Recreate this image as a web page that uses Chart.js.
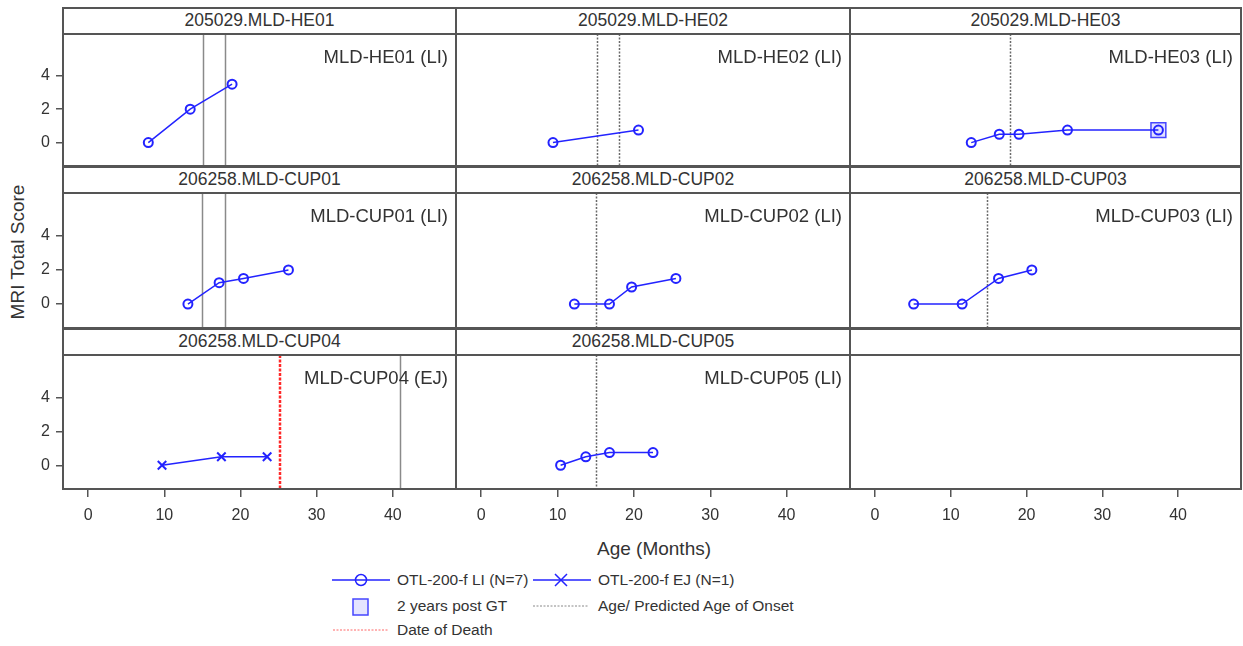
<!DOCTYPE html>
<html>
<head>
<meta charset="utf-8">
<script src="https://cdn.jsdelivr.net/npm/chart.js@4/dist/chart.umd.min.js"></script>
<style>
body { margin:0; background:#fff; width:1243px; height:646px; position:relative; overflow:hidden;
       font-family:"Liberation Sans", Arial, sans-serif; color:#333; }
canvas { position:absolute; }
.strip { position:absolute; box-sizing:border-box; border:2px solid #555; background:#fff;
         text-align:center; font-size:17.5px; line-height:23px; white-space:nowrap; }
.title { position:absolute; font-size:19px; white-space:nowrap; }
.lg { position:absolute; font-size:15.5px; white-space:nowrap; line-height:18px; }
svg { position:absolute; }
</style>
</head>
<body>
<div class="title" id="ytitle" style="left:18px;top:252px;transform:translate(-50%,-50%) rotate(-90deg);">MRI Total Score</div>
<div class="title" style="left:654px;top:549px;transform:translate(-50%,-50%);">Age (Months)</div>

<!-- legend -->
<svg style="left:330px;top:570px" width="62" height="20"><line x1="2" y1="10" x2="60" y2="10" stroke="rgb(35,35,255)" stroke-width="1.5"/><circle cx="31" cy="10" r="5.5" fill="none" stroke="rgb(35,35,255)" stroke-width="1.5"/></svg>
<div class="lg" style="left:397px;top:571px">OTL-200-f LI (N=7)</div>
<svg style="left:531px;top:570px" width="62" height="20"><line x1="2" y1="10" x2="60" y2="10" stroke="rgb(35,35,255)" stroke-width="1.5"/><path d="M24 4 L36 16 M36 4 L24 16" stroke="rgb(35,35,255)" stroke-width="1.5"/></svg>
<div class="lg" style="left:598px;top:571px">OTL-200-f EJ (N=1)</div>
<svg style="left:350px;top:596px" width="22" height="22"><rect x="3" y="3" width="15" height="16" fill="rgba(120,120,255,0.2)" stroke="rgb(70,70,255)" stroke-width="1.5"/></svg>
<div class="lg" style="left:397px;top:597px">2 years post GT</div>
<svg style="left:531px;top:596px" width="62" height="20"><line x1="2" y1="10" x2="58" y2="10" stroke="#888" stroke-width="1" stroke-dasharray="2,1.5"/></svg>
<div class="lg" style="left:598px;top:597px">Age/ Predicted Age of Onset</div>
<svg style="left:330px;top:620px" width="62" height="20"><line x1="3" y1="10" x2="59" y2="10" stroke="#f66" stroke-width="1" stroke-dasharray="2,1.5"/></svg>
<div class="lg" style="left:397px;top:621px">Date of Death</div>

<script>
// panel order: row by row, left to right
var panelTitles = ['205029.MLD-HE01', '205029.MLD-HE02', '205029.MLD-HE03',
                   '206258.MLD-CUP01', '206258.MLD-CUP02', '206258.MLD-CUP03',
                   '206258.MLD-CUP04', '206258.MLD-CUP05', ''];
var insetLabels = ['MLD-HE01 (LI)', 'MLD-HE02 (LI)', 'MLD-HE03 (LI)',
                   'MLD-CUP01 (LI)', 'MLD-CUP02 (LI)', 'MLD-CUP03 (LI)',
                   'MLD-CUP04 (EJ)', 'MLD-CUP05 (LI)', ''];
var cohorts = ['LI', 'LI', 'LI', 'LI', 'LI', 'LI', 'EJ', 'LI', ''];

var ages = [[7.9, 13.4, 18.9], [9.4, 20.6], [12.7, 16.4, 19.0, 25.4, 37.4],
            [13.1, 17.2, 20.4, 26.3], [12.2, 16.8, 19.7, 25.5], [5.1, 11.5, 16.3, 20.7],
            [9.7, 17.5, 23.5], [10.4, 13.7, 16.8, 22.5], []];
var scores = [[0, 2, 3.5], [0, 0.75], [0, 0.5, 0.5, 0.75, 0.75],
              [0, 1.25, 1.5, 2], [0, 0, 1, 1.5], [0, 0, 1.5, 2],
              [0, 0.5, 0.5], [0, 0.5, 0.75, 0.75], []];

var onsetAges = [[15.1, 18], [15.2, 18], [17.8], [15, 18], [15], [14.8], [41], [15], []];
var deathAges = [null, null, null, null, null, null, 25.2, null, null];
var postGtAges = [null, null, 37.4, null, null, null, null, null, null];
var postGtScores = [null, null, 0.75, null, null, null, null, null, null];

var xTicks = [0, 10, 20, 30, 40];
var yTicks = [0, 2, 4];

// layout
var colLeft = [63, 456, 850];
var colW = [393, 394, 391];
var rowTop = [8, 167, 329];
var stripH = 26;
var plotH = [132, 135, 134];
var yAxisW = 45, xAxisH = 46;
var solidOnset = [0, 3, 6];
var blue = 'rgb(35,35,255)';

Chart.defaults.font.family = '"Liberation Sans", Arial, sans-serif';
Chart.defaults.font.size = 16;
Chart.defaults.color = '#333';

var panelDecor = {
  id: 'panelDecor',
  beforeDatasetsDraw: function(chart, args, opts) {
    var ctx = chart.ctx, a = chart.chartArea, xs = chart.scales.x;
    ctx.save();
    ctx.beginPath();
    ctx.rect(a.left, a.top, a.right - a.left, a.bottom - a.top);
    ctx.clip();
    opts.onset.forEach(function(v) {
      var px = Math.round(xs.getPixelForValue(v)) + 0.5;
      ctx.beginPath();
      ctx.lineWidth = 1.5;
      ctx.strokeStyle = opts.solid ? '#8a8a8a' : '#6a6a6a';
      ctx.setLineDash(opts.solid ? [] : [2, 1.5]);
      ctx.moveTo(px, a.top);
      ctx.lineTo(px, a.bottom);
      ctx.stroke();
    });
    if (opts.death != null) {
      var dx = Math.round(xs.getPixelForValue(opts.death));
      ctx.beginPath();
      ctx.lineWidth = 2.5;
      ctx.strokeStyle = 'rgb(255,40,40)';
      ctx.setLineDash([3, 1.5]);
      ctx.moveTo(dx, a.top);
      ctx.lineTo(dx, a.bottom);
      ctx.stroke();
    }
    ctx.restore();
  },
  afterDraw: function(chart, args, opts) {
    var ctx = chart.ctx, a = chart.chartArea;
    ctx.save();
    ctx.lineWidth = 2;
    ctx.strokeStyle = '#555';
    ctx.strokeRect(a.left, a.top, a.right - a.left, a.bottom - a.top);
    if (opts.label) {
      ctx.font = '18.5px "Liberation Sans", Arial, sans-serif';
      ctx.fillStyle = '#333';
      ctx.textAlign = 'right';
      ctx.textBaseline = 'alphabetic';
      ctx.fillText(opts.label, a.right - 8, a.top + 29);
    }
    ctx.restore();
  }
};

for (var i = 0; i < 9; i++) {
  var r = Math.floor(i / 3), c = i % 3;
  var plotTop = rowTop[r] + stripH;

  var strip = document.createElement('div');
  strip.className = 'strip';
  strip.style.left = (colLeft[c] - 1) + 'px';
  strip.style.top = (rowTop[r] - 1) + 'px';
  strip.style.width = (colW[c] + 2) + 'px';
  strip.style.height = (stripH + 2) + 'px';
  strip.textContent = panelTitles[i];
  document.body.appendChild(strip);

  var padL = c === 0 ? 0 : 2, padB = r === 2 ? 0 : 2;
  var cw = (c === 0 ? yAxisW : 2) + colW[c] + 2;
  var ch = 2 + plotH[r] + (r === 2 ? xAxisH : 2);
  var cv = document.createElement('canvas');
  cv.width = cw; cv.height = ch;
  cv.style.left = (colLeft[c] - (c === 0 ? yAxisW : 2)) + 'px';
  cv.style.top = (plotTop - 2) + 'px';
  document.body.appendChild(cv);

  var datasets = [];
  if (ages[i].length) {
    var ej = cohorts[i] === 'EJ';
    datasets.push({
      data: ages[i].map(function(x, k) { return {x: x, y: scores[i][k]}; }),
      borderColor: blue,
      borderWidth: 1.5,
      pointStyle: ej ? 'crossRot' : 'circle',
      pointRadius: ej ? 6 : 4.5,
      pointBorderWidth: 2,
      pointBorderColor: blue,
      pointBackgroundColor: 'rgba(0,0,0,0)',
      order: 1
    });
  }
  if (postGtAges[i] != null) {
    datasets.push({
      data: [{x: postGtAges[i], y: postGtScores[i]}],
      showLine: false,
      pointStyle: 'rect',
      pointRadius: 10.5,
      pointBorderWidth: 1.5,
      pointBorderColor: 'rgb(70,70,255)',
      pointBackgroundColor: 'rgba(120,120,255,0.22)',
      order: 2
    });
  }

  new Chart(cv, {
    type: 'line',
    data: { datasets: datasets },
    plugins: [panelDecor],
    options: {
      responsive: false,
      animation: false,
      events: [],
      layout: { autoPadding: false, padding: { left: padL, right: 2, top: 2, bottom: padB } },
      plugins: {
        legend: { display: false },
        tooltip: { enabled: false },
        panelDecor: {
          label: insetLabels[i],
          onset: onsetAges[i],
          death: deathAges[i],
          solid: solidOnset.indexOf(i) >= 0
        }
      },
      scales: {
        x: {
          type: 'linear',
          min: -3.3, max: 48.3,
          display: r === 2,
          afterBuildTicks: function(s) { s.ticks = xTicks.map(function(v) { return {value: v}; }); },
          afterFit: function(s) {
            if (s.options.display) s.height = xAxisH;
            s.paddingLeft = 0; s.paddingRight = 0;
          },
          grid: { drawOnChartArea: false, drawTicks: true, tickLength: 8, color: '#555', lineWidth: 1.5 },
          border: { display: false },
          ticks: { padding: 9, color: '#333', font: { size: 16 } }
        },
        y: {
          type: 'linear',
          min: -1.4, max: 6.5,
          display: c === 0,
          afterBuildTicks: function(s) { s.ticks = yTicks.map(function(v) { return {value: v}; }); },
          afterFit: function(s) {
            if (s.options.display) s.width = yAxisW;
            s.paddingTop = 0; s.paddingBottom = 0;
          },
          grid: { drawOnChartArea: false, drawTicks: true, tickLength: 7, color: '#555', lineWidth: 1.5 },
          border: { display: false },
          ticks: { padding: 6, color: '#333', font: { size: 16 } }
        }
      }
    }
  });
}
</script>
</body>
</html>
